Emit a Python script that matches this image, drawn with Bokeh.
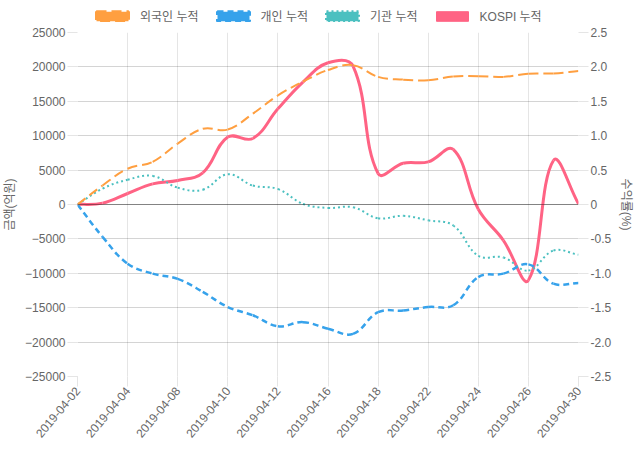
import math
from bokeh.plotting import figure
from bokeh.layouts import column
from bokeh.models import (Range1d, LinearAxis, FixedTicker, Span, Legend, LegendItem,
                          ColumnDataSource, BasicTickFormatter)
from bokeh.embed import file_html
from bokeh.resources import INLINE

dates = ["2019-04-02", "2019-04-03", "2019-04-04", "2019-04-05", "2019-04-08",
         "2019-04-09", "2019-04-10", "2019-04-11", "2019-04-12", "2019-04-15",
         "2019-04-16", "2019-04-17", "2019-04-18", "2019-04-19", "2019-04-22",
         "2019-04-23", "2019-04-24", "2019-04-25", "2019-04-26", "2019-04-29",
         "2019-04-30"]

foreign = [0, 2770, 5200, 6200, 8850, 11000, 10900, 13200, 15850, 17850, 19550,
           20250, 18550, 18150, 18050, 18600, 18650, 18550, 19000, 19050, 19400]
individual = [0, -4700, -8600, -10050, -10800, -12700, -14900, -16100, -17700, -17100,
              -18050, -18800, -15650, -15400, -14900, -14650, -10550, -10050, -8700,
              -11500, -11400]
institution = [0, 2300, 3600, 4150, 2450, 2150, 4400, 2750, 2250, 100, -500, -400,
               -2000, -1650, -2300, -3050, -7450, -7700, -9600, -6700, -7300]
kospi = [0, 0.02, 0.16, 0.30, 0.35, 0.46, 0.98, 0.96, 1.39, 1.78, 2.06, 2.01, 0.45,
         0.60, 0.62, 0.80, -0.07, -0.52, -1.10, 0.64, 0.01]

series_labels = ["외국인 누적", "개인 누적", "기관 누적", "KOSPI 누적"]
left_ticks = [-25000, -20000, -15000, -10000, -5000, 0, 5000, 10000, 15000, 20000, 25000]
right_ticks = [-2.5, -2.0, -1.5, -1.0, -0.5, 0, 0.5, 1.0, 1.5, 2.0, 2.5]
right_tick_labels = ["-2.5", "-2.0", "-1.5", "-1.0", "-0.5", "0", "0.5", "1.0", "1.5", "2.0", "2.5"]

FONT = "'Liberation Sans', 'Noto Sans CJK KR', sans-serif"
GRAY = "#666666"

W = 636
LH = 24                      # legend strip height
H = 444 - LH
BL, BR, BT, BB = 77, 56, 8, 68
FW, FH = W - BL - BR, H - BT - BB
xs = list(range(len(dates)))


def bezier_source(xv, yv, sx, sy, ymin, ymax, t=0.4):
    n = len(xv)
    pp, pn = [], []
    for i in range(n):
        a = max(i - 1, 0)
        b = min(i + 1, n - 1)
        d01 = math.hypot((xv[i] - xv[a]) * sx, (yv[i] - yv[a]) * sy)
        d12 = math.hypot((xv[b] - xv[i]) * sx, (yv[b] - yv[i]) * sy)
        s = d01 + d12
        s01 = d01 / s if s else 0
        s12 = d12 / s if s else 0
        fa, fb = t * s01, t * s12
        dx, dy = xv[b] - xv[a], yv[b] - yv[a]
        clampx = lambda v: min(max(v, 0), n - 1)
        clampy = lambda v: min(max(v, ymin), ymax)
        pp.append((clampx(xv[i] - fa * dx), clampy(yv[i] - fa * dy)))
        pn.append((clampx(xv[i] + fb * dx), clampy(yv[i] + fb * dy)))
    d = dict(x0=[], y0=[], x1=[], y1=[], cx0=[], cy0=[], cx1=[], cy1=[])
    for i in range(n - 1):
        d["x0"].append(xv[i]); d["y0"].append(yv[i])
        d["x1"].append(xv[i + 1]); d["y1"].append(yv[i + 1])
        d["cx0"].append(pn[i][0]); d["cy0"].append(pn[i][1])
        d["cx1"].append(pp[i + 1][0]); d["cy1"].append(pp[i + 1][1])
    return ColumnDataSource(d)


p = figure(width=W, height=H, output_backend="svg", toolbar_location=None,
           x_range=Range1d(0, len(dates) - 1), y_range=Range1d(-25000, 25000),
           min_border_left=BL, min_border_right=BR, min_border_top=BT, min_border_bottom=BB)
p.outline_line_color = None
p.background_fill_color = "white"
p.extra_y_ranges = {"pct": Range1d(-2.5, 2.5)}

sx = FW / (len(dates) - 1)
sy_left = FH / 50000
sy_right = FH / 5.0

colors = ["#ff9f40", "#36a2eb", "#4bc0c0", "#ff6384"]
dashes = ["10 5", "6 4", "2 3", "solid"]
widths = [2, 2.5, 2, 3]

p.xgrid.ticker = FixedTicker(ticks=xs[::2])
p.xgrid.grid_line_color = "black"
p.xgrid.grid_line_alpha = 0.1
p.ygrid.ticker = FixedTicker(ticks=left_ticks)
p.ygrid.grid_line_color = "black"
p.ygrid.grid_line_alpha = 0.17
p.add_layout(Span(location=0, dimension="width", line_color="black", line_alpha=0.38, line_width=1))

srcs = [
    bezier_source(xs, foreign, sx, sy_left, -25000, 25000),
    bezier_source(xs, individual, sx, sy_left, -25000, 25000),
    bezier_source(xs, institution, sx, sy_left, -25000, 25000),
    bezier_source(xs, kospi, sx, sy_right, -2.5, 2.5),
]
for k in [3, 2, 1, 0]:
    kw = dict(y_range_name="pct") if k == 3 else {}
    p.bezier(x0="x0", y0="y0", x1="x1", y1="y1", cx0="cx0", cy0="cy0", cx1="cx1", cy1="cy1",
             source=srcs[k], line_color=colors[k], line_width=widths[k], line_dash=dashes[k], **kw)


def style_axis(ax):
    ax.axis_line_color = None
    ax.major_tick_line_color = "black"
    ax.major_tick_line_alpha = 0.1
    ax.major_tick_out = 10
    ax.major_tick_in = 0
    ax.minor_tick_line_color = None
    ax.major_label_text_font = FONT
    ax.major_label_text_font_size = "12px"
    ax.major_label_text_color = GRAY
    ax.major_label_standoff = 2
    ax.axis_label_text_font = FONT
    ax.axis_label_text_font_size = "12px"
    ax.axis_label_text_color = GRAY
    ax.axis_label_text_font_style = "normal"
    ax.axis_label_standoff = 5


xa = p.xaxis[0]
style_axis(xa)
xa.ticker = FixedTicker(ticks=xs[::2])
xa.major_label_overrides = {i: dates[i] for i in xs}
xa.major_label_orientation = 50 * math.pi / 180

ya = p.yaxis[0]
style_axis(ya)
ya.ticker = FixedTicker(ticks=left_ticks)
ya.formatter = BasicTickFormatter(use_scientific=False)
ya.axis_label = "금액(억원)"

ra = LinearAxis(y_range_name="pct", axis_label="수익률(%)")
style_axis(ra)
ra.ticker = FixedTicker(ticks=right_ticks)
ra.major_label_overrides = {v: s for v, s in zip(right_ticks, right_tick_labels)}
p.add_layout(ra, "right")

# legend strip: a separate small figure above the chart (its frame aligns with the chart's)
lf = figure(width=W, height=LH, output_backend="svg", toolbar_location=None,
            x_range=Range1d(0, 1), y_range=Range1d(0, 1),
            x_axis_location=None, y_axis_location=None,
            min_border=0, min_border_left=0, min_border_right=0,
            min_border_top=0, min_border_bottom=0)
lf.grid.visible = False
lf.outline_line_color = None
items = []
for k in range(4):
    r = lf.quad(left=xs[:1], right=xs[:1], top=foreign[:1], bottom=foreign[:1],
                fill_color=colors[k], line_color=colors[k],
                line_width=3 if k < 3 else 1, line_dash=dashes[k], visible=False)
    items.append(LegendItem(label=series_labels[k], renderers=[r]))
legend = Legend(items=items, orientation="horizontal", location=(15, 0),
                glyph_width=40, glyph_height=12, label_standoff=8, spacing=14, padding=0,
                margin=0, border_line_alpha=0, background_fill_alpha=0,
                inactive_fill_alpha=0,
                label_text_font=FONT, label_text_font_size="12px", label_text_color=GRAY,
                label_height=12)
lf.add_layout(legend)

layout = column(lf, p, spacing=0)
open("out.html", "w").write(file_html(layout, INLINE))
